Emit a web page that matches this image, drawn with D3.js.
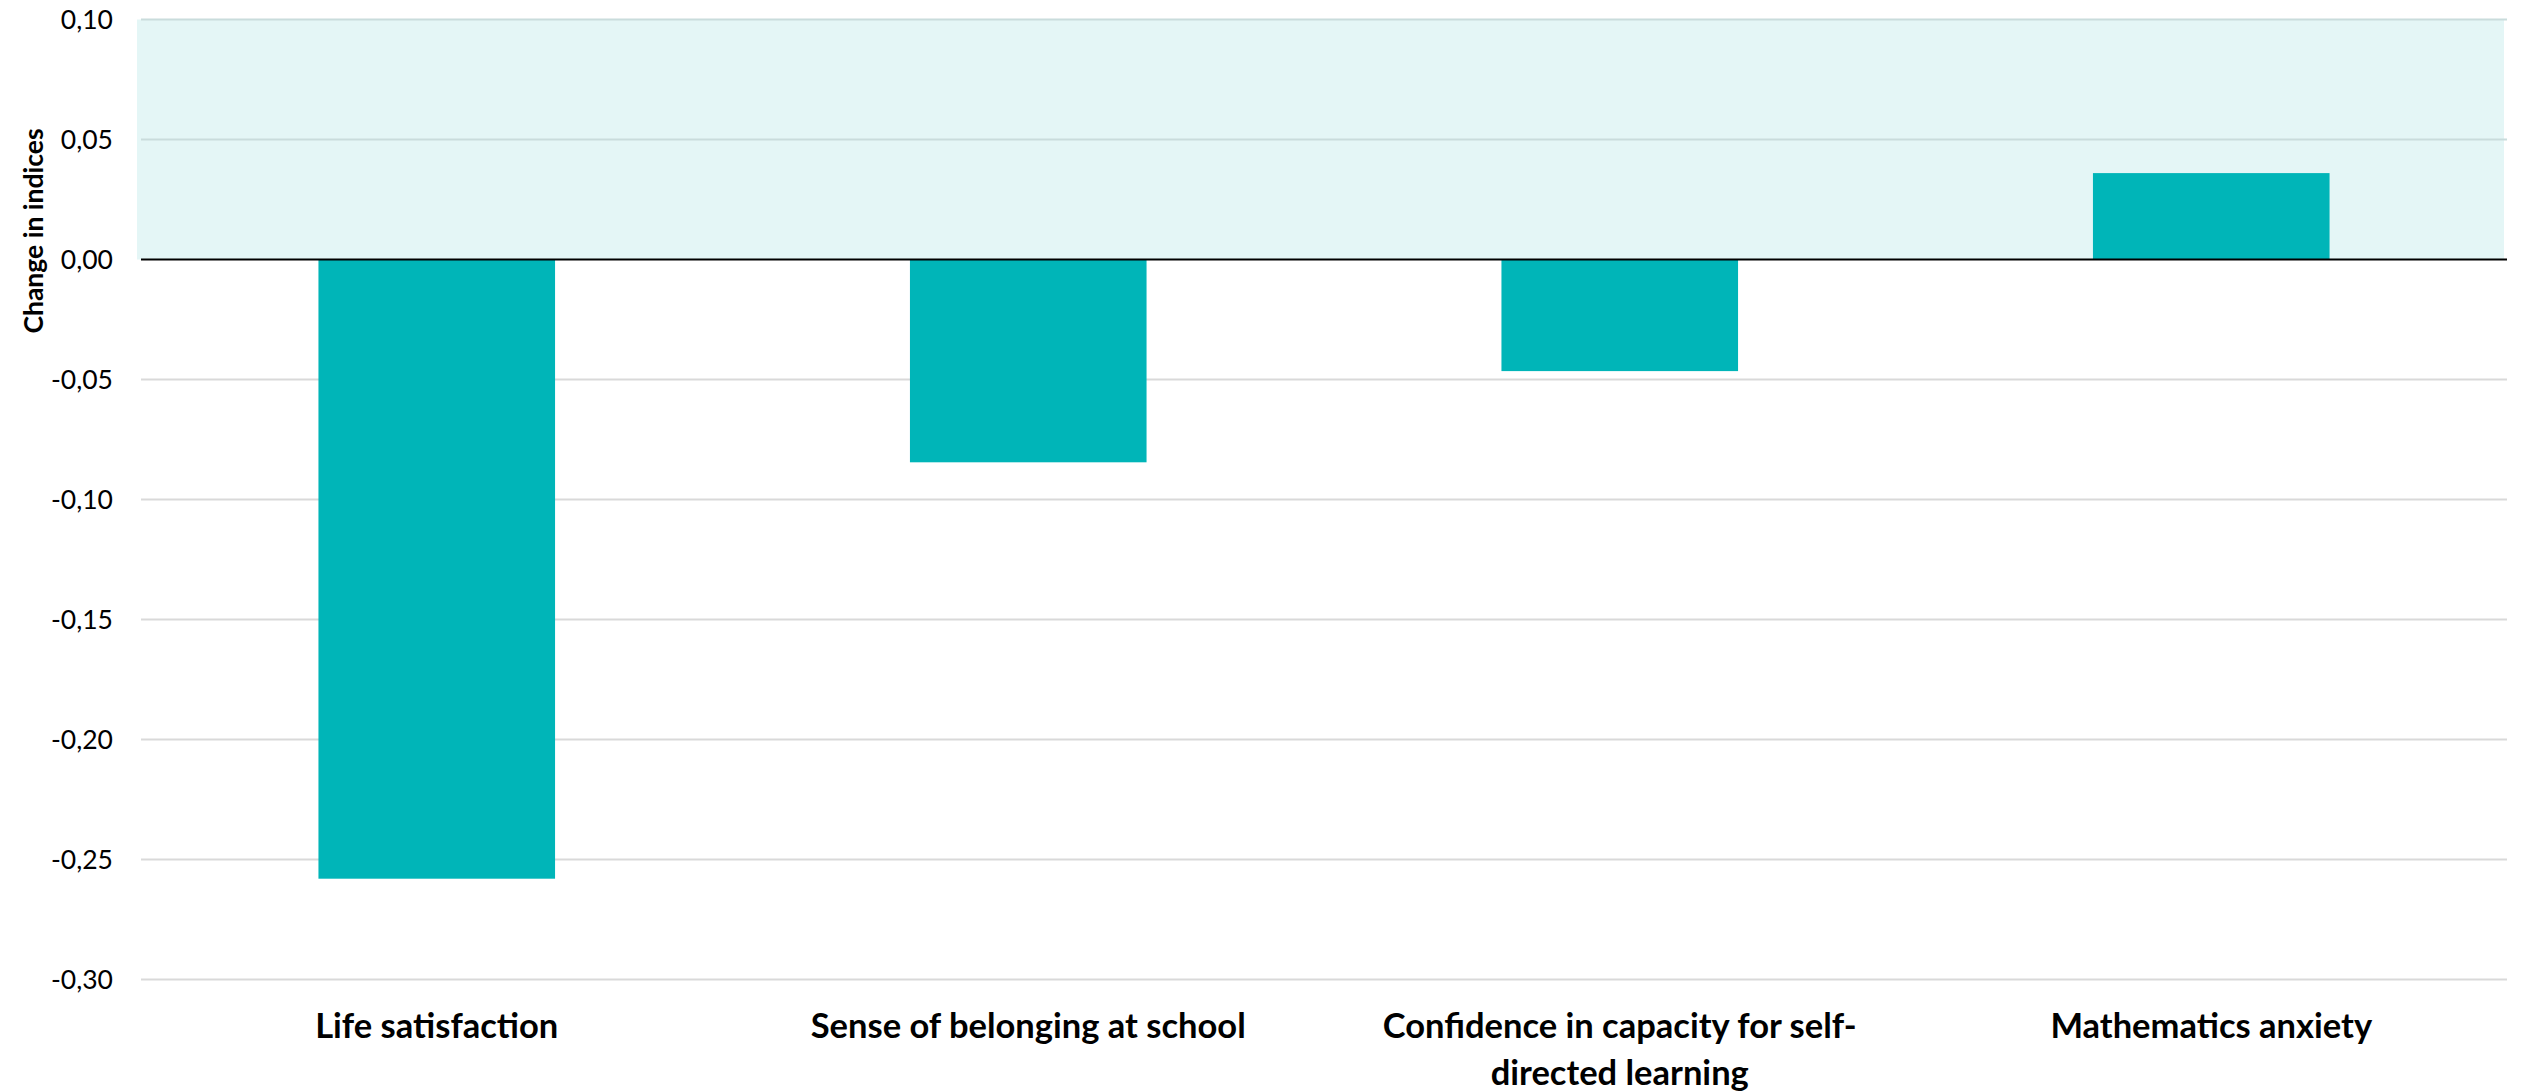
<!DOCTYPE html>
<html>
<head>
<meta charset="utf-8">
<script src="https://cdn.jsdelivr.net/npm/d3@7"></script>
<style>
  html, body { margin: 0; padding: 0; background: #fff; }
  svg { display: block; }
</style>
</head>
<body>
<svg id="chart" width="2526" height="1091"></svg>
<script>
const categories = [
  "Life satisfaction",
  "Sense of belonging at school",
  "Confidence in capacity for self-directed learning",
  "Mathematics anxiety"
];
const categoryLines = [
  ["Life satisfaction"],
  ["Sense of belonging at school"],
  ["Confidence in capacity for self-", "directed learning"],
  ["Mathematics anxiety"]
];
const values = [-0.258, -0.0845, -0.0465, 0.036];
const yTicks = [0.10, 0.05, 0.00, -0.05, -0.10, -0.15, -0.20, -0.25, -0.30];
const yTitle = "Change in indices";

const svg = d3.select("#chart");
const margin = { left: 141, right: 19, top: 19.5, bottom: 111.5 };
const W = 2526, H = 1091;

const x = d3.scaleBand()
  .domain(categories)
  .range([margin.left, W - margin.right])
  .paddingInner(0.6)
  .paddingOuter(0.3);

const y = d3.scaleLinear()
  .domain([-0.30, 0.10])
  .range([H - margin.bottom, margin.top]);

const loc = d3.formatLocale({ decimal: ",", thousands: ".", grouping: [3], currency: ["", ""], minus: "-" });
const fmt = loc.format(".2f");

// shaded positive band
svg.append("rect")
  .attr("x", margin.left - 4)
  .attr("y", y(0.10))
  .attr("width", (W - margin.right - 3) - (margin.left - 4))
  .attr("height", y(0) - y(0.10))
  .attr("fill", "#e4f6f6");

// gridlines
svg.append("g")
  .selectAll("line")
  .data(yTicks.filter(d => d !== 0))
  .join("line")
  .attr("x1", margin.left)
  .attr("x2", W - margin.right)
  .attr("y1", d => y(d))
  .attr("y2", d => y(d))
  .attr("stroke", d => d > 0 ? "#c9dcdc" : "#d9d9d9")
  .attr("stroke-width", 2);

// bars
svg.append("g")
  .selectAll("rect")
  .data(values)
  .join("rect")
  .attr("x", (d, i) => x(categories[i]))
  .attr("width", x.bandwidth())
  .attr("y", d => y(Math.max(0, d)))
  .attr("height", d => Math.abs(y(d) - y(0)))
  .attr("fill", "#00b5b8");

// zero line
svg.append("line")
  .attr("x1", margin.left)
  .attr("x2", W - margin.right)
  .attr("y1", y(0))
  .attr("y2", y(0))
  .attr("stroke", "#000")
  .attr("stroke-width", 2);

// y axis tick labels
const yAxis = d3.axisLeft(y).tickValues(yTicks).tickFormat(fmt).tickSize(0).tickPadding(0);
const gy = svg.append("g")
  .attr("transform", `translate(${margin.left - 28},0)`)
  .call(yAxis);
gy.select(".domain").remove();
gy.selectAll("text")
  .attr("font-family", "Lato, 'Open Sans', sans-serif")
  .attr("font-size", 26.5)
  .attr("fill", "#000")
  .attr("dy", "0.35em");

// y title
svg.append("text")
  .attr("transform", `translate(43, 231) rotate(-90)`)
  .attr("text-anchor", "middle")
  .attr("font-family", "Lato, 'Open Sans', sans-serif")
  .attr("font-weight", "bold")
  .attr("font-size", 26.5)
  .attr("fill", "#000")
  .text(yTitle);

// x labels
const gx = svg.append("g");
categories.forEach((c, i) => {
  const t = gx.append("text")
    .attr("x", x(c) + x.bandwidth() / 2)
    .attr("y", 1038)
    .attr("text-anchor", "middle")
    .attr("font-family", "Lato, 'Open Sans', sans-serif")
    .attr("font-weight", "bold")
    .attr("font-size", 34.5)
    .attr("fill", "#000");
  categoryLines[i].forEach((ln, j) => {
    t.append("tspan")
      .attr("x", x(c) + x.bandwidth() / 2)
      .attr("dy", j === 0 ? 0 : 47)
      .text(ln);
  });
});
</script>
</body>
</html>
